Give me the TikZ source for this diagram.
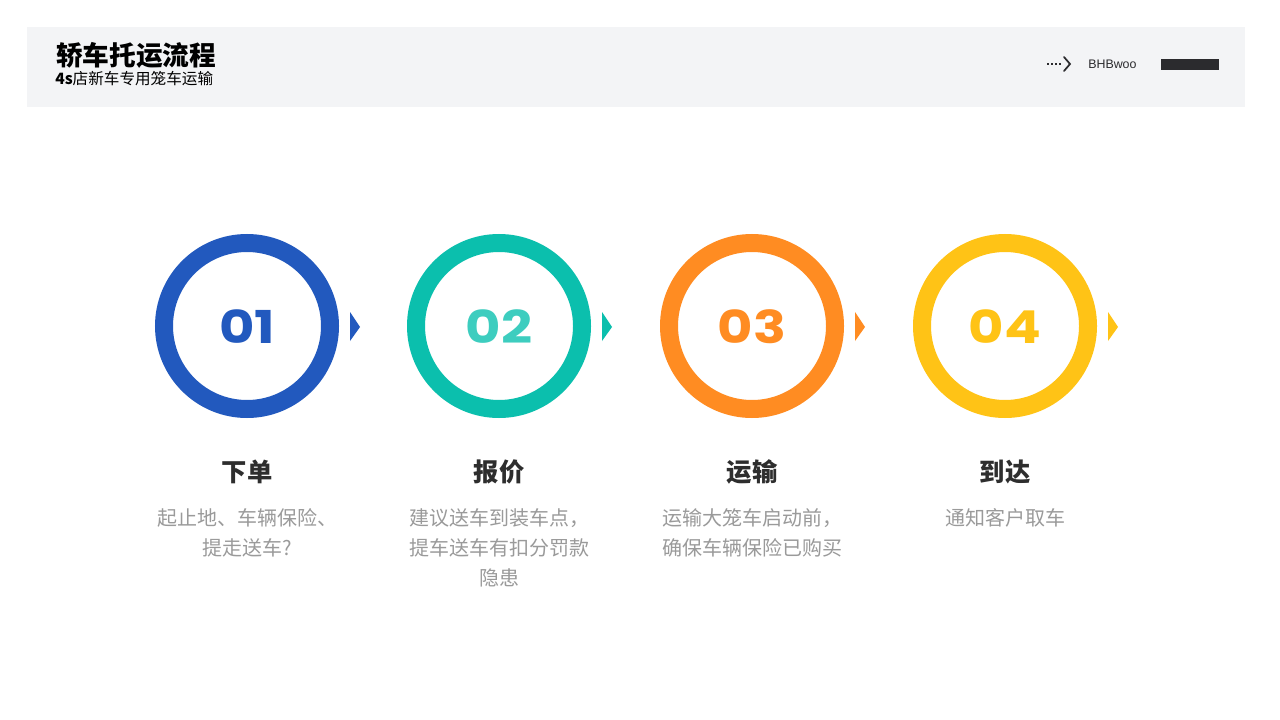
\documentclass[tikz,border=0pt]{standalone}
\usepackage{fontspec}
\newfontfamily\cjk{Noto Sans CJK SC}
\newfontfamily\numfont[FakeStretch=1.2]{Poppins}
\newfontfamily\latinsans{Liberation Sans}
\definecolor{hdrbg}{HTML}{F3F4F6}
\definecolor{cblue}{HTML}{2259BE}
\definecolor{cteal}{HTML}{0BBFAD}
\definecolor{cteallt}{HTML}{3DCDBF}
\definecolor{corange}{HTML}{FF8C22}
\definecolor{cyellow}{HTML}{FFC316}
\definecolor{ttl}{HTML}{2E2E2E}
\definecolor{desc}{HTML}{9A9A9A}
\definecolor{bar}{HTML}{2B2B2E}
\tikzset{
  ring/.style={line width=13.5pt},
  numlbl/.style={font=\numfont\bfseries\fontsize{34}{34}\selectfont},
  steptitle/.style={font=\cjk\bfseries\fontsize{19}{20}\selectfont, text=ttl},
  stepdesc/.style={font=\cjk\fontsize{15}{22.5}\selectfont, text=desc, align=center, anchor=north}
}
\begin{document}
\begin{tikzpicture}[x=0.75pt,y=-0.75pt]
\useasboundingbox (0,0) rectangle (1280,720);
\fill[white] (0,0) rectangle (1280,720);
% header
\fill[hdrbg] (27,27) rectangle (1245,107);
\node[anchor=west, inner sep=0, font=\cjk\bfseries\fontsize{20}{20}\selectfont] (title) at (56,55) {轿车托运流程};
\node[anchor=west, inner sep=0, font=\cjk\fontsize{11.7}{12}\selectfont] (subtitle) at (55,79) {\textbf{4s}店新车专用笼车运输};
\coordinate (da) at (1047,64);
\coordinate (db) at (1070,64);
\draw[line width=1.1pt, dash pattern=on 1.2pt off 1.8pt, color=bar] (da) -- ++(15,0);
\draw[line width=1.3pt, color=bar, line cap=round, line join=miter] (1064,57) -- (db) -- (1064,71);
\node[anchor=west, inner sep=0, font=\latinsans\fontsize{9.3}{10}\selectfont, text=bar] (brand) at (1088,64) {BHBwoo};
\fill[bar] (1161,59) rectangle (1219,70);
% steps
\foreach \i/\x/\c/\nc/\n in {1/247/cblue/cblue/01, 2/499/cteal/cteallt/02, 3/752/corange/corange/03, 4/1005/cyellow/cyellow/04}{
  \draw[ring, draw=\c] (\x,326) circle (83);
  \node[numlbl, text=\nc] (num\i) at (\x,327) {\n};
  \fill[\c] (\x+103,312) -- (\x+113,327) -- (\x+103,341) -- cycle;
}
\node[steptitle] (t1) at (247,472) {下单};
\node[steptitle] (t2) at (499,472) {报价};
\node[steptitle] (t3) at (752,472) {运输};
\node[steptitle] (t4) at (1005,472) {到达};
\node[stepdesc] (d1) at (247,504) {起止地、车辆保险、\\提走送车?};
\node[stepdesc] (d2) at (499,504) {建议送车到装车点，\\提车送车有扣分罚款\\隐患};
\node[stepdesc] (d3) at (752,504) {运输大笼车启动前，\\确保车辆保险已购买};
\node[stepdesc] (d4) at (1005,504) {通知客户取车};
\end{tikzpicture}
\end{document}
